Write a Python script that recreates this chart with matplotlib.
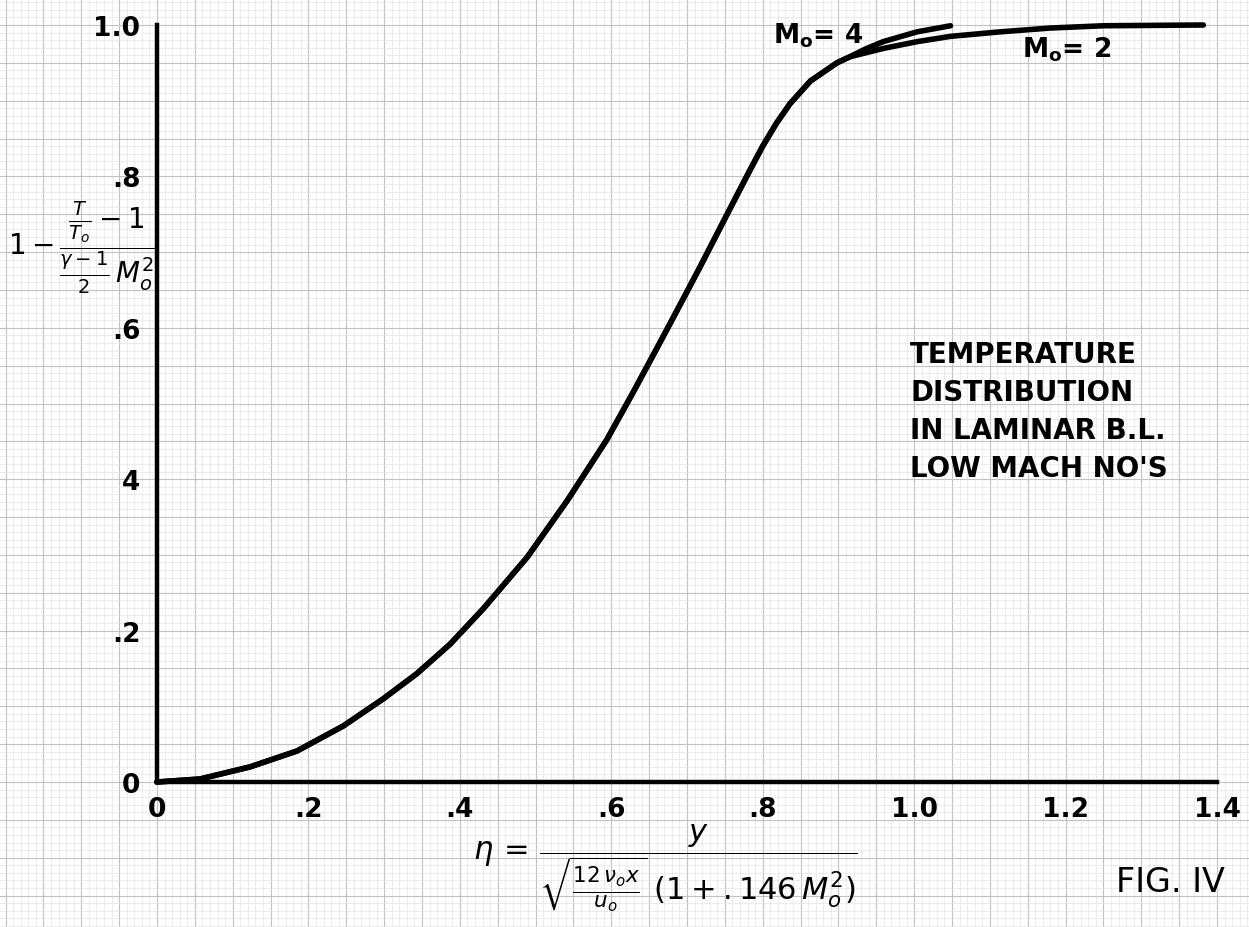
import matplotlib
matplotlib.use("Agg")
import matplotlib.pyplot as plt
from matplotlib.ticker import MultipleLocator

# ---- data ----
eta_common = [0.0, 0.057, 0.123, 0.185, 0.246, 0.299, 0.343, 0.387, 0.431,
              0.489, 0.542, 0.594, 0.629, 0.664, 0.697, 0.717, 0.753, 0.783,
              0.800, 0.818, 0.836, 0.863, 0.898, 0.915]
val_common = [0.0, 0.004, 0.020, 0.041, 0.074, 0.110, 0.143, 0.182, 0.229,
              0.297, 0.372, 0.452, 0.515, 0.580, 0.642, 0.680, 0.750, 0.808,
              0.840, 0.870, 0.896, 0.926, 0.950, 0.958]
eta_m4 = [0.935, 0.959, 1.004, 1.048]
val_m4 = [0.968, 0.978, 0.991, 0.999]
eta_m2 = [0.935, 0.959, 1.004, 1.048, 1.114, 1.18, 1.25, 1.382]
val_m2 = [0.963, 0.969, 0.978, 0.985, 0.991, 0.996, 0.999, 1.0]

x_ticks = [0, 0.2, 0.4, 0.6, 0.8, 1.0, 1.2, 1.4]
x_labels = ["0", ".2", ".4", ".6", ".8", "1.0", "1.2", "1.4"]
y_ticks = [0, 0.2, 0.4, 0.6, 0.8, 1.0]
y_labels = ["0", ".2", "4", ".6", ".8", "1.0"]

W, H = 1249, 928
fig = plt.figure(figsize=(W / 100, H / 100), dpi=100)
fig.patch.set_facecolor("white")

# pixel geometry of the plot frame
x0_px, x1_px = 157, 1217
y0_px, y1_px = 783, 26
sx = (x1_px - x0_px) / 1.4
sy = (y0_px - y1_px) / 1.0

# graph-paper background aligned with the data coordinates
bg = fig.add_axes([0, 0, 1, 1], zorder=0)
bg.set_xlim(-x0_px / sx, (W - x0_px) / sx)
bg.set_ylim(-(H - y0_px) / sy, y0_px / sy)
bg.xaxis.set_major_locator(MultipleLocator(0.05))
bg.yaxis.set_major_locator(MultipleLocator(0.05))
bg.xaxis.set_minor_locator(MultipleLocator(0.01))
bg.yaxis.set_minor_locator(MultipleLocator(0.01))
bg.grid(which="major", color="#c2c2c2", lw=0.8)
bg.grid(which="minor", color="#e4e4e4", lw=0.5)
bg.tick_params(which="both", length=0, labelbottom=False, labelleft=False)
for s in bg.spines.values():
    s.set_visible(False)

ax = fig.add_axes([x0_px / W, (H - y0_px) / H, (x1_px - x0_px) / W, (y0_px - y1_px) / H],
                  zorder=2)
ax.patch.set_alpha(0)
ax.set_xlim(0, 1.4)
ax.set_ylim(0, 1.0)
for s in ["top", "right"]:
    ax.spines[s].set_visible(False)
for s in ["left", "bottom"]:
    ax.spines[s].set_linewidth(3.2)
    ax.spines[s].set_color("black")

lw = 4.0
ax.plot(eta_common + eta_m4, val_common + val_m4, color="black", lw=lw,
        solid_capstyle="round", solid_joinstyle="round", clip_on=False)
ax.plot(eta_common + eta_m2, val_common + val_m2, color="black", lw=lw,
        solid_capstyle="round", solid_joinstyle="round", clip_on=False)

tick_font = dict(fontsize=19, fontweight="bold", family="DejaVu Sans")
ax.set_xticks(x_ticks)
ax.set_xticklabels(x_labels, **tick_font)
ax.set_yticks(y_ticks)
ax.set_yticklabels(y_labels, **tick_font)
ax.tick_params(axis="x", length=0, pad=10)
ax.tick_params(axis="y", length=0, pad=12)

def fx(px):
    return px / W

def fy(py):
    return 1 - py / H

# curve labels
fig.text(fx(818), fy(36), r"M$_\mathbf{o}$= 4", fontsize=19, fontweight="bold",
         ha="center", va="center", zorder=3)
fig.text(fx(1067), fy(50), r"M$_\mathbf{o}$= 2", fontsize=19, fontweight="bold",
         ha="center", va="center", zorder=3)

# title block
fig.text(fx(910), fy(412), "TEMPERATURE\nDISTRIBUTION\nIN LAMINAR B.L.\nLOW MACH NO'S",
         fontsize=20, fontweight="bold", ha="left", va="center", linespacing=1.45,
         zorder=3)

# axis labels
fig.text(fx(8), fy(248),
         r"$1-\dfrac{\frac{T}{T_o}-1}{\frac{\gamma-1}{2}\,M_o^2}$",
         fontsize=20, ha="left", va="center", zorder=3)
fig.text(fx(665), fy(868),
         r"$\eta\,=\,\dfrac{y}{\sqrt{\frac{12\,\nu_o x}{u_o}}\;(1+.146\,M_o^2)}$",
         fontsize=22, ha="center", va="center", zorder=3)

fig.text(fx(1170), fy(882), "FIG. IV", fontsize=24, ha="center", va="center", zorder=3)

fig.savefig("out.png", dpi=100, facecolor="white")
